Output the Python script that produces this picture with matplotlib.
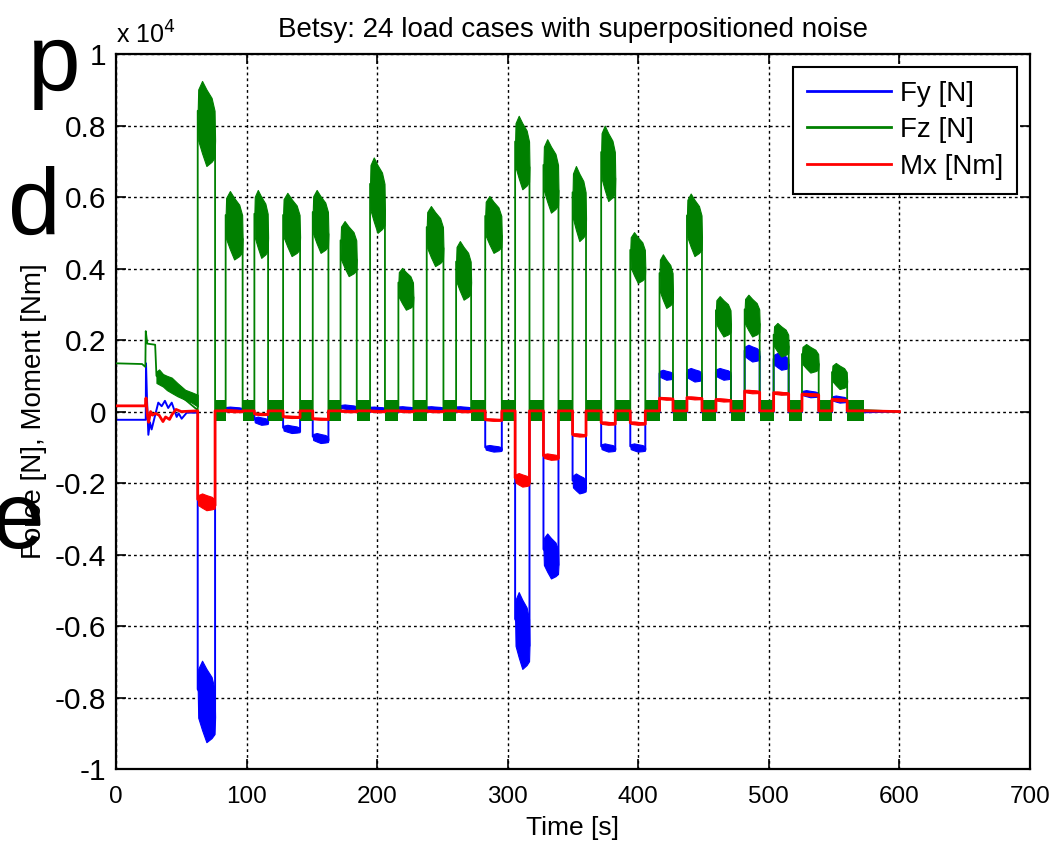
import matplotlib
matplotlib.use("Agg")
import matplotlib.pyplot as plt
from matplotlib.ticker import FuncFormatter, MultipleLocator
from matplotlib import font_manager

# --- load case timing [s] ---------------------------------------------------
t_on = [62.6, 84.0, 106.0, 128.0, 150.7, 172.0, 194.6, 216.3, 238.0, 260.5, 282.8, 305.7,
        327.4, 349.7, 371.6, 393.9, 416.3, 437.3, 459.5, 481.5, 503.7, 525.4, 548.4]
t_off = [75.9, 97.0, 116.5, 141.0, 162.7, 184.4, 206.0, 227.8, 250.8, 272.0, 295.5, 316.7,
         338.9, 360.0, 382.4, 405.4, 426.6, 448.8, 471.0, 493.0, 515.2, 538.2, 560.0]

# noise band per load case [N] / [Nm]
fz_lo = [6870, 4255, 4300, 4350, 4440, 3790, 5000, 2850, 4070, 3130, 4440, 6220,
         5565, 4770, 5890, 3600, 2900, 4350, 2100, 2100, 1540, 1090, 630]
fz_hi = [9250, 6170, 6200, 6120, 6200, 5330, 7110, 4020, 5750, 4770, 6030, 8275,
         7620, 6870, 8000, 5020, 4400, 6100, 3230, 3270, 2480, 1890, 1360]
fy_lo = [-9250, 30, -370, -600, -880, 60, 50, 50, 50, 50, -1120, -7200,
         -4670, -2290, -1120, -1120, 890, 840, 890, 1400, 1170, 400, 250]
fy_hi = [-6970, 140, -140, -370, -600, 200, 140, 150, 150, 150, -935, -5050,
         -3410, -1730, -890, -890, 1170, 1220, 1220, 1870, 1640, 600, 450]
mx_lo = [-2760, -20, -100, -180, -230, -20, -20, -20, -20, -20, -260, -2100,
         -1350, -700, -370, -370, 330, 340, 280, 510, 470, 440, 290]
mx_hi = [-2290, 60, -40, -120, -180, 40, 40, 40, 40, 40, -200, -1720,
         -1170, -610, -280, -280, 400, 420, 370, 610, 560, 520, 370]

# level between load cases
fz_rest_lo, fz_rest_hi = -250, 330
fy_rest_lo, fy_rest_hi = -100, 60
mx_rest = 20
t_settle = 573.0
t_stop = 600.0

# start-up transient before the first load case
t_init_fz = [0, 20.0, 22.5, 22.8, 24.0, 30.0, 31.0]
fz_init = [1350, 1330, 1250, 2250, 1900, 1870, 1000]
t_ramp_fz = [31.0, 33.0, 36.0, 39.0, 42.7, 47.0, 53.0, 58.0, 62.6]
fz_ramp_lo = [800, 760, 700, 600, 520, 430, 330, 250, 140]
fz_ramp_hi = [1120, 1180, 1050, 1000, 950, 800, 610, 540, 470]

t_init_fy = [0, 22.8, 23.0, 23.8, 24.8, 26.0, 27.3, 30.0, 32.4, 35.0, 37.5, 40.0,
             42.7, 46.5, 48.0, 50.3, 54.2, 62.6]
fy_init = [-230, -230, 1350, 300, -650, -300, -500, -100, 250, 150, 300, 100,
           250, -150, -50, -200, -30, -30]

t_init_mx = [0, 22.5, 23.0, 24.0, 25.0, 26.5, 28.0, 30.0, 33.0, 36.0, 38.0, 41.0,
             43.0, 46.0, 50.0, 62.6]
mx_init = [160, 160, 380, -80, -300, 0, -100, -50, -100, -280, -150, -220,
           -80, 60, 0, 20]

C_FY = (0, 0, 1)
C_FZ = (0, 0.5, 0)
C_MX = (1, 0, 0)


def pick_font(names):
    have = {f.name for f in font_manager.fontManager.ttflist}
    for n in names:
        if n in have:
            return n
    return "DejaVu Sans"


FONT = pick_font(["Liberation Sans", "Arial", "DejaVu Sans"])
plt.rcParams["font.family"] = [FONT, "DejaVu Sans"]


def spindle(t0, t1, lo, hi):
    # envelope of the superpositioned noise over one load case
    w = t1 - t0
    r = hi - lo
    start = lo + 0.65 * r
    end = lo + 0.3 * r
    fr = [0, 0.03, 0.25, 0.5, 0.8, 0.97, 1.0]
    tt = [t0 + f * w for f in fr]
    upper = [start, lo + 0.9 * r, hi, lo + 0.9 * r, lo + 0.8 * r, lo + 0.65 * r, end]
    lower = [start, lo + 0.3 * r, lo + 0.15 * r, lo, lo + 0.05 * r, lo + 0.1 * r, end]
    return tt, lower, upper, start, end


def series_path(t_init, v_init, lo, hi, rest):
    ts, vs = list(t_init), list(v_init)
    for i in range(len(t_on)):
        _, _, _, s, e = spindle(t_on[i], t_off[i], lo[i], hi[i])
        ts += [t_on[i], t_on[i], t_off[i], t_off[i]]
        vs += [rest, s, e, rest]
    ts += [t_settle, t_stop]
    vs += [rest, 0]
    return ts, vs


def draw_bands(ax, lo, hi, color, rest_lo=None, rest_hi=None, z=2):
    for i in range(len(t_on)):
        tt, lower, upper, _, _ = spindle(t_on[i], t_off[i], lo[i], hi[i])
        ax.fill_between(tt, lower, upper, color=color, lw=0.8, zorder=z)
        if rest_lo is not None:
            t_next = t_on[i + 1] if i + 1 < len(t_on) else t_settle
            ax.fill_between([t_off[i], t_next], [rest_lo] * 2, [rest_hi] * 2,
                            color=color, lw=0, zorder=z)


fig = plt.figure(figsize=(10.64, 8.42), dpi=100)
ax = fig.add_axes([0.109, 0.0867, 0.859, 0.849])

# Fy
t_fy, v_fy = series_path(t_init_fy, fy_init, fy_lo, fy_hi, (fy_rest_lo + fy_rest_hi) / 2)
ax.plot(t_fy, v_fy, color=C_FY, lw=1.4, label="Fy [N]", zorder=2)
draw_bands(ax, fy_lo, fy_hi, C_FY, fy_rest_lo, fy_rest_hi, z=2)

# Fz
t_fz, v_fz = series_path(t_init_fz, fz_init, fz_lo, fz_hi, (fz_rest_lo + fz_rest_hi) / 2)
ax.plot(t_fz, v_fz, color=C_FZ, lw=1.3, label="Fz [N]", zorder=3)
ax.fill_between(t_ramp_fz, fz_ramp_lo, fz_ramp_hi, color=C_FZ, lw=0.8, zorder=3)
draw_bands(ax, fz_lo, fz_hi, C_FZ, fz_rest_lo, fz_rest_hi, z=3)

# Mx
t_mx, v_mx = series_path(t_init_mx, mx_init, mx_lo, mx_hi, mx_rest)
ax.plot(t_mx, v_mx, color=C_MX, lw=2.0, label="Mx [Nm]", zorder=4)
draw_bands(ax, mx_lo, mx_hi, C_MX, z=4)

ax.set_xlim(0, 700)
ax.set_ylim(-10000, 10000)
ax.xaxis.set_major_locator(MultipleLocator(100))
ax.yaxis.set_major_locator(MultipleLocator(2000))
ax.yaxis.set_major_formatter(FuncFormatter(lambda v, p: f"{v / 1e4:g}"))

ax.grid(True, color="black", linestyle=(0, (2, 2.2)), lw=1.0)
ax.set_axisbelow(True)
ax.tick_params(direction="in", top=True, right=True, length=7, width=1.2)
ax.tick_params(axis="y", labelsize=21.5, pad=7)
ax.tick_params(axis="x", labelsize=17.5, pad=12)
for sp in ax.spines.values():
    sp.set_linewidth(1.6)

ax.set_title("Betsy: 24 load cases with superpositioned noise", fontsize=20, pad=12)
ax.set_xlabel("Time [s]", fontsize=19, labelpad=6)
ax.set_ylabel("Force [N], Moment [Nm]", fontsize=20)
ax.yaxis.set_label_coords(-0.075, 0.5)
ax.text(0.0, 1.008, r"x 10$^{4}$", transform=ax.transAxes, fontsize=18,
        ha="left", va="bottom")

leg = ax.legend(loc="upper right", fontsize=20, handlelength=3.05, handletextpad=0.32,
                borderaxespad=0.45, borderpad=0.5, fancybox=False, framealpha=1,
                edgecolor="black", labelspacing=0.38)
leg.get_frame().set_linewidth(1.5)
for line in leg.get_lines():
    line.set_linewidth(2.0)

# slide letters peeking in from the left edge
for ch, x, y in [("p", 28, 90), ("d", 8, 235), ("e", -8, 548)]:
    fig.text(x / 1064, 1 - y / 842, ch, fontsize=68, ha="left", va="baseline", zorder=0)

fig.savefig("out.png", dpi=100)
